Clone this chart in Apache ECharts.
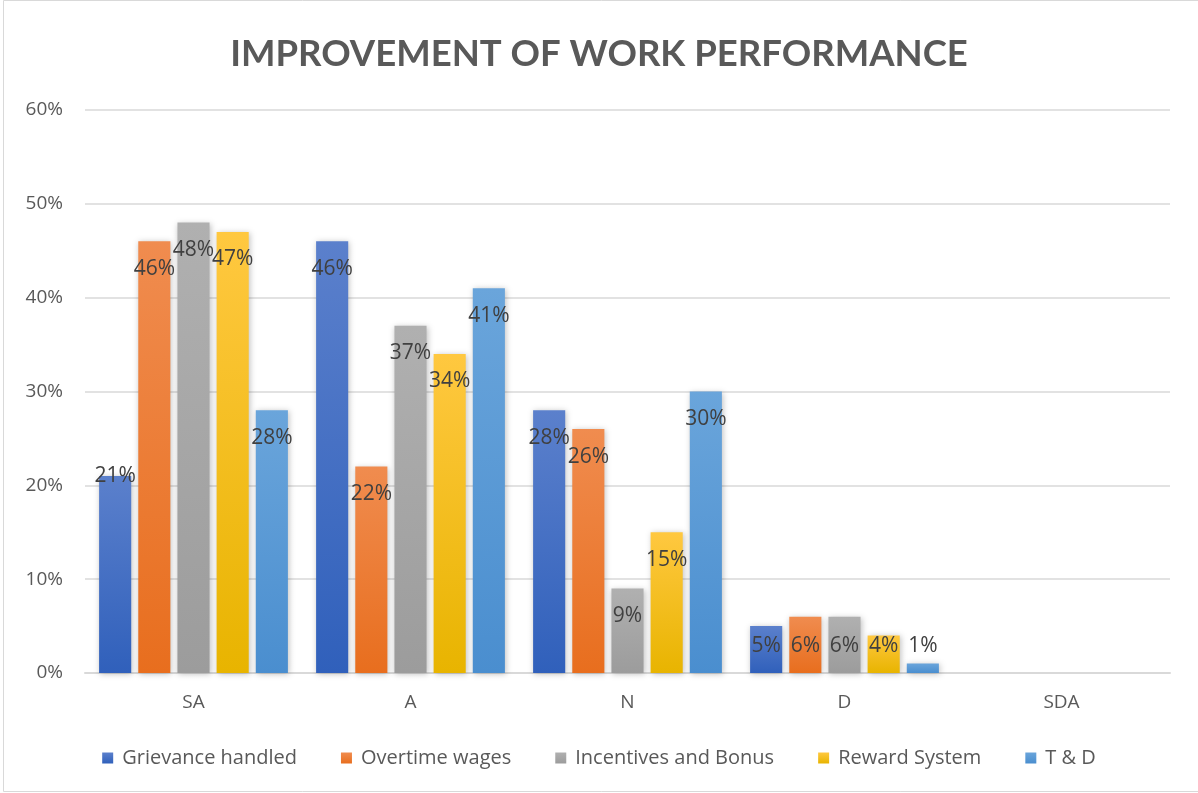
<!DOCTYPE html>
<html>
<head>
<meta charset="utf-8">
<script src="https://cdn.jsdelivr.net/npm/echarts@6/dist/echarts.min.js"></script>
<style>
html,body{margin:0;padding:0;background:#fff;}
#c{width:1198px;height:793px;}
</style>
</head>
<body>
<div id="c"></div>
<script>
const categories = ['SA', 'A', 'N', 'D', 'SDA'];
const seriesNames = ['Grievance handled', 'Overtime wages', 'Incentives and Bonus', 'Reward System', 'T & D'];
const grievance = [21, 46, 28, 5, null];
const overtime = [46, 22, 26, 6, null];
const incentives = [48, 37, 9, 6, null];
const reward = [47, 34, 15, 4, null];
const tnd = [28, 41, 30, 1, null];
const yTicks = [0, 10, 20, 30, 40, 50, 60];

const values = [grievance, overtime, incentives, reward, tnd];
const topColors = ['#5b80cc', '#f08c4f', '#b0b0b0', '#ffc840', '#6aa5db'];
const botColors = ['#3060bb', '#e86e1e', '#9c9c9c', '#e8b400', '#4a8ecf'];

const FONT = 'Open Sans';
const TITLE_FONT = 'Lato';
const chart = echarts.init(document.getElementById('c'));

const series = values.map((vals, si) => ({
  name: seriesNames[si],
  type: 'bar',
  barGap: '22%',
  barCategoryGap: '13%',
  itemStyle: {
    color: new echarts.graphic.LinearGradient(0, 0, 0, 1, [
      {offset: 0, color: topColors[si]},
      {offset: 1, color: botColors[si]}
    ]),
    shadowColor: 'rgba(0,0,0,0.25)',
    shadowBlur: 6,
    shadowOffsetX: 1,
    shadowOffsetY: 1
  },
  label: {
    show: true,
    position: 'insideTop',
    distance: 17,
    color: '#404040',
    fontFamily: FONT,
    fontSize: 21,
    formatter: p => p.value == null ? '' : p.value + '%'
  },
  data: vals.map((v, ci) => {
    if (v == null) return v;
    if (v <= 6) {
      return {value: v, label: {position: 'insideBottom', distance: 16}};
    }
    if (si === 0 && ci === 0) {
      return {value: v, label: {position: 'insideTop', distance: -10}};
    }
    return v;
  })
}));

chart.setOption({
  animation: false,
  backgroundColor: '#ffffff',
  title: {
    text: 'IMPROVEMENT OF WORK PERFORMANCE',
    left: 'center',
    top: 31,
    textStyle: {fontFamily: TITLE_FONT, fontWeight: 'bold', fontSize: 36.5, color: '#595959'}
  },
  legend: {
    bottom: 20,
    left: 'center',
    itemWidth: 11,
    itemHeight: 11,
    itemGap: 44,
    icon: 'rect',
    textStyle: {fontFamily: FONT, fontSize: 20, color: '#595959', padding: [0, 0, 0, 4]},
    data: seriesNames
  },
  grid: {left: 85, right: 28, top: 110, bottom: 120, containLabel: false},
  xAxis: {
    type: 'category',
    data: categories,
    axisLine: {lineStyle: {color: '#d9d9d9', width: 2}},
    axisTick: {show: false},
    axisLabel: {fontFamily: FONT, fontSize: 19, color: '#595959', margin: 20}
  },
  yAxis: {
    type: 'value',
    min: yTicks[0],
    max: yTicks[yTicks.length - 1],
    interval: 10,
    axisLine: {show: false},
    axisTick: {show: false},
    splitLine: {lineStyle: {color: '#d9d9d9', width: 1.5}},
    axisLabel: {fontFamily: FONT, fontSize: 19, color: '#595959', margin: 22, formatter: v => v + '%'}
  },
  graphic: [{
    type: 'rect',
    shape: {x: 3.5, y: 0.5, width: 1200, height: 791},
    style: {fill: 'none', stroke: '#d9d9d9', lineWidth: 1}
  }],
  series: series
});
</script>
</body>
</html>
